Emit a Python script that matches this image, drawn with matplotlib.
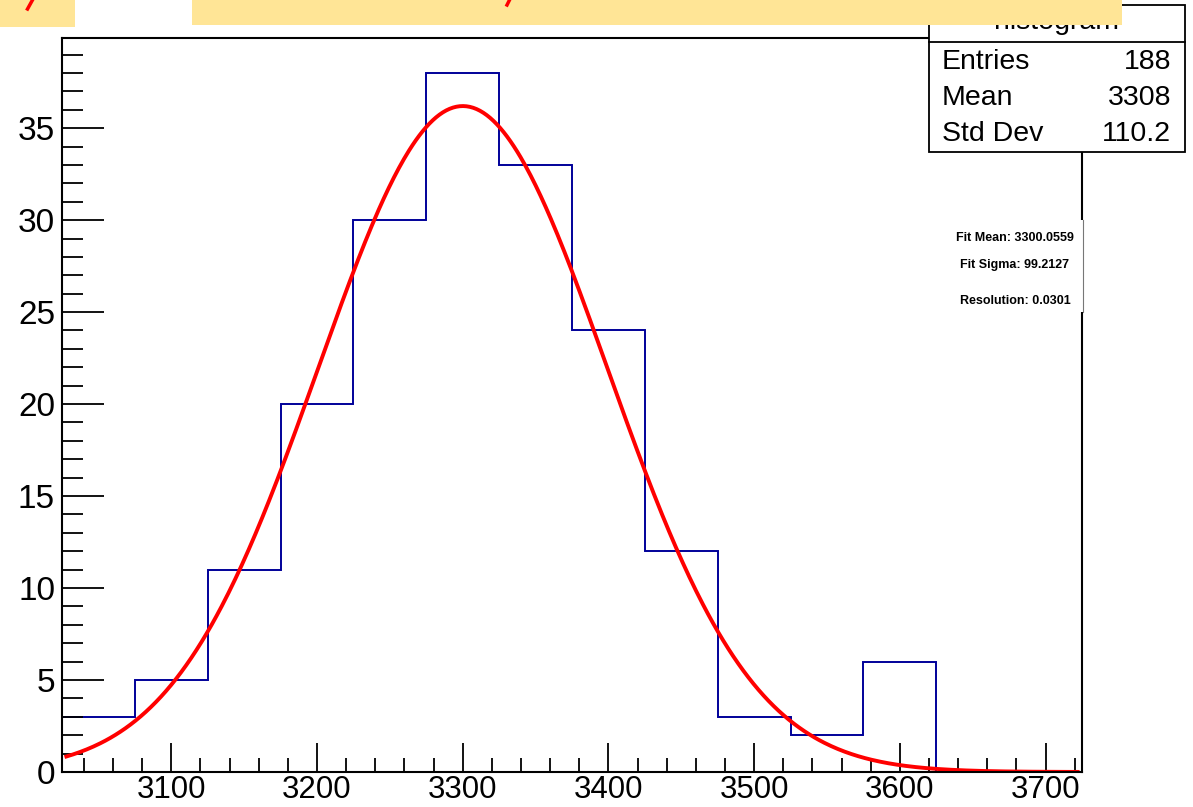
import matplotlib
matplotlib.use("Agg")
import matplotlib.pyplot as plt
import numpy as np
from matplotlib.patches import Rectangle
from matplotlib.lines import Line2D

# ── data ──────────────────────────────────────────────────────────────────────
bin_edges = [3025, 3075, 3125, 3175, 3225, 3275, 3325, 3375, 3425, 3475,
             3525, 3575, 3625, 3675, 3725]
counts = [3, 5, 11, 20, 30, 38, 33, 24, 12, 3, 2, 6, 0, 0]

fit_const = 36.2
fit_mean = 3300.0559
fit_sigma = 99.2127
fit_range = (3028, 3722)

stats_labels = ["Entries", "Mean", "Std Dev"]
stats_values = ["188", "3308", "110.2"]
fit_lines = ["Fit Mean: 3300.0559", "Fit Sigma: 99.2127", "Resolution: 0.0301"]

W, H = 1193, 807
_YELLOW = "#FFE596"
_BLUE = "#000099"
_FONT = "Liberation Sans"


def fx(px):
    return px / W


def fy(py):
    return 1 - py / H


fig = plt.figure(figsize=(W / 100, H / 100), dpi=100)
fig.patch.set_facecolor("white")
ax = fig.add_axes([fx(62), fy(772), fx(1082) - fx(62), fy(38) - fy(772)])

# histogram outline
ax.stairs(counts, bin_edges, color=_BLUE, linewidth=1.4, baseline=None)

# gaussian fit
xs = np.linspace(fit_range[0], fit_range[1], 600)
ax.plot(xs, fit_const * np.exp(-0.5 * ((xs - fit_mean) / fit_sigma) ** 2),
        color="#ff0000", linewidth=2.8)

ax.set_xlim(bin_edges[0], bin_edges[-1])
ax.set_ylim(0, max(counts) * 1.05)

ax.set_xticks(np.arange(3100, 3701, 100))
ax.set_xticks(np.arange(3040, 3721, 20), minor=True)
ax.set_yticks(np.arange(0, 36, 5))
ax.set_yticks(np.arange(0, 40, 1), minor=True)
ax.tick_params(axis="x", which="major", direction="in", length=21, width=1.3,
               labelsize=22.5, pad=2.5)
ax.tick_params(axis="x", which="minor", direction="in", length=10, width=1.3)
ax.tick_params(axis="y", which="major", direction="in", length=30, width=1.3,
               labelsize=24, pad=5)
ax.tick_params(axis="y", which="minor", direction="in", length=15, width=1.3)
for s in ax.spines.values():
    s.set_linewidth(1.5)
for lab in ax.get_xticklabels() + ax.get_yticklabels():
    lab.set_fontfamily(_FONT)

# ── stats box ─────────────────────────────────────────────────────────────────
fig.patches.append(Rectangle((fx(929), fy(152)), fx(1185) - fx(929), fy(5) - fy(152),
                             transform=fig.transFigure, facecolor="white",
                             edgecolor="black", linewidth=1.3, zorder=5))
fig.lines.append(Line2D([fx(929), fx(1185)], [fy(42), fy(42)],
                        transform=fig.transFigure, color="black", linewidth=1.3, zorder=6))
fig.text(fx(1057), fy(22), "histogram", ha="center", va="center", fontsize=20.5,
         family=_FONT, zorder=6)
for i, (lab, val) in enumerate(zip(stats_labels, stats_values)):
    y = fy(62 + 36 * i)
    fig.text(fx(942), y, lab, ha="left", va="center", fontsize=20.5,
             family=_FONT, zorder=6)
    fig.text(fx(1171), y, val, ha="right", va="center", fontsize=20.5,
             family=_FONT, zorder=6)

# ── fit results box ───────────────────────────────────────────────────────────
fig.patches.append(Rectangle((fx(930), fy(312)), fx(1082.5) - fx(930), fy(220) - fy(312),
                             transform=fig.transFigure, facecolor="white",
                             edgecolor="none", zorder=5))
fig.lines.append(Line2D([fx(1083), fx(1083)], [fy(220), fy(312)],
                        transform=fig.transFigure, color="#777777", linewidth=0.8, zorder=6))
for i, t in enumerate(fit_lines):
    fig.text(fx(1015), fy([238, 265, 301][i]), t, ha="center", va="center",
             fontsize=9, fontweight="bold", family=_FONT, zorder=6)

# ── cropped yellow annotation boxes at the top ───────────────────────────────
fig.patches.append(Rectangle((0, fy(27)), fx(75), fy(0) - fy(27),
                             transform=fig.transFigure, facecolor=_YELLOW,
                             edgecolor="none", zorder=7))
fig.patches.append(Rectangle((fx(192), fy(25)), fx(1122) - fx(192), fy(0) - fy(25),
                             transform=fig.transFigure, facecolor=_YELLOW,
                             edgecolor="none", zorder=7))
fig.lines.append(Line2D([fx(27.5), fx(32.5)], [fy(9), fy(0)],
                        transform=fig.transFigure, color="red", linewidth=2.5, zorder=8))
fig.lines.append(Line2D([fx(507), fx(509.5)], [fy(5), fy(0)],
                        transform=fig.transFigure, color="red", linewidth=2.5, zorder=8))

fig.savefig("out.png", dpi=100)
plt.close(fig)
